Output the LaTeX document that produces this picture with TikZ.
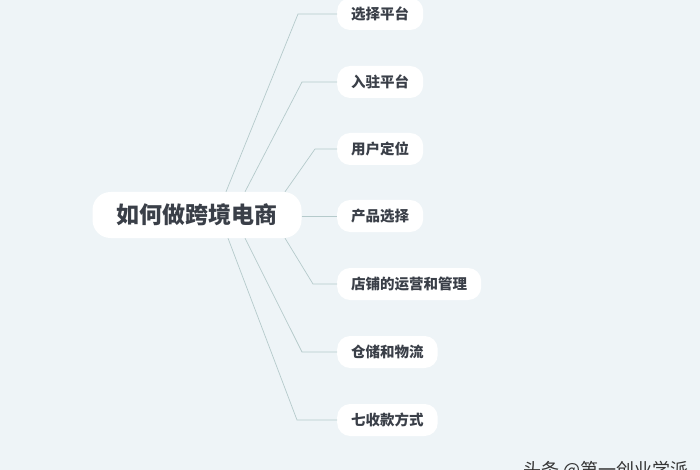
\documentclass[tikz,border=0pt]{standalone}
\usepackage{fontspec}
\newfontfamily\cjk{Noto Sans CJK SC}
\usetikzlibrary{positioning,calc}
\definecolor{bgcol}{HTML}{EEF4F7}
\definecolor{linecol}{HTML}{B5CACB}
\definecolor{txtcol}{HTML}{3A3F48}
\tikzset{
  topic/.style={fill=white, rounded corners=18pt, inner xsep=24pt, minimum height=46pt, text=txtcol, font=\cjk\bfseries\fontsize{23}{27}\selectfont},
  subtopic/.style={fill=white, rounded corners=13pt, inner xsep=14pt, minimum height=32pt, text=txtcol, font=\cjk\bfseries\fontsize{14.5}{17}\selectfont, anchor=west},
  branch/.style={draw=linecol, line width=0.7pt}
}

\begin{document}
\begin{tikzpicture}[x=1pt, y=-1pt]
    \useasboundingbox (0,0) rectangle (700,470);
    \clip (0,0) rectangle (700,470);
    \fill[bgcol] (0,0) rectangle (700,470);

    % Central topic
    \node[topic] (root) at (197,215) {如何做跨境电商};

    % Sub topics
    \node[subtopic] (pingtai) at (337,14) {选择平台};
    \node[subtopic] (ruzhu) at (337,82) {入驻平台};
    \node[subtopic] (yonghu) at (337,149) {用户定位};
    \node[subtopic] (chanpin) at (337,216) {产品选择};
    \node[subtopic] (dianpu) at (337,284) {店铺的运营和管理};
    \node[subtopic] (cangchu) at (337,352) {仓储和物流};
    \node[subtopic] (shoukuan) at (337,420) {七收款方式};

    % Branches
    \draw[branch] ($(root.north)+(29,0)$) -- ([xshift=-39pt]pingtai.west) -- (pingtai.west);
    \draw[branch] ($(root.north)+(48,0)$) -- ([xshift=-35pt]ruzhu.west) -- (ruzhu.west);
    \draw[branch] ($(root.north)+(88,0)$) -- ([xshift=-22pt]yonghu.west) -- (yonghu.west);
    \draw[branch] (root.east |- chanpin.west) -- (chanpin.west);
    \draw[branch] ($(root.south)+(88,0)$) -- ([xshift=-24pt]dianpu.west) -- (dianpu.west);
    \draw[branch] ($(root.south)+(48,0)$) -- ([xshift=-35pt]cangchu.west) -- (cangchu.west);
    \draw[branch] ($(root.south)+(31,0)$) -- ([xshift=-40pt]shoukuan.west) -- (shoukuan.west);

    % Watermark
    \node[anchor=north west, inner sep=0pt, text=black!80, font=\cjk\fontsize{18}{22}\selectfont] (mark) at (523,461) {头条 @第一创业学派};
\end{tikzpicture}
\end{document}
